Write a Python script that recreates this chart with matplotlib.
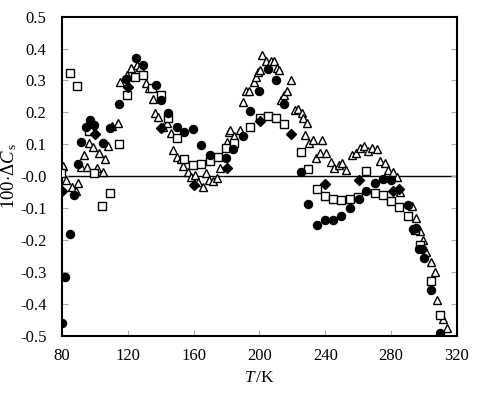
import numpy as np
import matplotlib
matplotlib.use("Agg")
import matplotlib.pyplot as plt

plt.rcParams['font.family'] = 'Liberation Serif'
plt.rcParams['mathtext.fontset'] = 'custom'
plt.rcParams['mathtext.rm'] = 'Liberation Serif'
plt.rcParams['mathtext.it'] = 'Liberation Serif:italic'

# filled circles
circ_T = [80, 82.2, 84.9, 87.3, 89.9, 91.6, 94.8, 97.0, 99.6, 104.9, 109.3, 114.7,
          118.9, 125.0, 129.2, 137.0, 140.2, 144.6, 150.1, 154.5, 159.8, 164.5,
          169.9, 179.6, 184.0, 189.8, 194.1, 199.8, 205.2, 209.8, 215.0, 225.0,
          229.6, 234.8, 239.6, 244.8, 249.3, 255.0, 260.3, 264.8, 270.2, 274.8,
          279.9, 290.0, 293.5, 294.9, 297.1, 298.5, 299.7, 304.2, 309.6]
circ_v = [-0.460, -0.317, -0.180, -0.060, 0.038, 0.108, 0.155, 0.177, 0.162, 0.103,
          0.152, 0.227, 0.304, 0.369, 0.348, 0.285, 0.240, 0.197, 0.155, 0.137,
          0.147, 0.097, 0.067, 0.056, 0.086, 0.126, 0.204, 0.266, 0.337, 0.301,
          0.226, 0.012, -0.088, -0.152, -0.136, -0.137, -0.124, -0.101, -0.072,
          -0.046, -0.022, -0.010, -0.012, -0.090, -0.166, -0.163, -0.228, -0.229,
          -0.256, -0.356, -0.490]

# filled diamonds
dia_T = [80, 100.3, 120, 140, 160, 180.4, 200.3, 219.5, 239.8, 260.5, 281, 284.8]
dia_v = [-0.045, 0.133, 0.278, 0.150, -0.027, 0.027, 0.173, 0.133, -0.025, -0.013,
         -0.046, -0.041]

# open squares
sq_T = [79.6, 84.9, 89.5, 96.6, 99.3, 104.7, 109.2, 114.6, 119.3, 124.3, 129.4,
        134.5, 140.0, 144.4, 150.0, 154.5, 159.8, 164.5, 169.9, 174.8, 179.8,
        184.7, 194.2, 200.1, 205.0, 209.8, 215.0, 225.0, 229.6, 234.9, 239.6,
        244.8, 249.5, 255.0, 260.1, 264.8, 270.2, 274.8, 280.1, 284.9, 290.0,
        294.7, 297.8, 304.2, 309.6]
sq_v = [0.010, 0.324, 0.283, 0.143, 0.010, -0.093, -0.053, 0.101, 0.254, 0.312,
        0.317, 0.277, 0.254, 0.182, 0.120, 0.053, 0.035, 0.038, 0.048, 0.061,
        0.087, 0.103, 0.155, 0.183, 0.188, 0.183, 0.163, 0.077, 0.023, -0.041,
        -0.062, -0.070, -0.074, -0.070, -0.064, 0.017, -0.052, -0.058, -0.077,
        -0.095, -0.124, -0.170, -0.214, -0.327, -0.434]

# open triangles
tri_T = [80.8, 82.4, 85.9, 88.5, 89.9, 91.5, 93.5, 95.4, 96.6, 98.8, 101.1, 102.9,
         105.1, 106.4, 108.1, 110.6, 114.4, 115.6, 119.6, 121.8, 125.8, 127.4,
         131.0, 132.9, 135.1, 136.7, 138.7, 141.5, 144.0, 146.1, 147.6, 150.1,
         152.5, 153.7, 156.5, 158.2, 160.8, 162.8, 165.5, 167.5, 169.5, 171.9,
         174.0, 176.0, 180.4, 181.4, 182.3, 184.3, 188.4, 190.2, 191.6, 193.8,
         196.6, 197.7, 198.9, 200.3, 201.6, 203.9, 206.8, 208.8, 210.4, 212.0,
         213.0, 215.0, 216.8, 219.1, 221.6, 223.6, 225.6, 226.7, 227.6, 229.1,
         229.9, 232.8, 234.6, 236.8, 238.1, 240.6, 243.8, 245.4, 248.2, 250.3,
         252.9, 256.0, 258.6, 261.1, 263.7, 266.2, 268.2, 271.2, 273.2, 276.2,
         278.3, 281.3, 283.3, 285.4, 292.6, 295.3, 297.5, 299.1, 300.9, 304.2,
         306.6, 308.0, 311.3, 314.1]
tri_v = [0.032, -0.012, -0.033, -0.045, -0.020, 0.030, 0.067, 0.030, 0.103, 0.091,
         0.025, 0.072, 0.014, 0.054, 0.096, 0.156, 0.168, 0.295, 0.318, 0.338,
         0.348, 0.343, 0.293, 0.277, 0.242, 0.197, 0.187, 0.153, 0.166, 0.134,
         0.082, 0.061, 0.053, 0.033, 0.014, -0.003, 0.004, -0.017, -0.033, 0.011,
         -0.012, -0.014, -0.005, 0.027, 0.108, 0.140, 0.145, 0.125, 0.145, 0.234,
         0.267, 0.266, 0.296, 0.310, 0.327, 0.334, 0.380, 0.360, 0.362, 0.360,
         0.338, 0.333, 0.239, 0.254, 0.266, 0.301, 0.208, 0.210, 0.198, 0.181,
         0.129, 0.168, 0.105, 0.115, 0.056, 0.072, 0.115, 0.072, 0.046, 0.025,
         0.035, 0.041, 0.020, 0.067, 0.074, 0.088, 0.095, 0.080, 0.088, 0.085,
         0.049, 0.041, 0.020, 0.014, -0.003, -0.048, -0.093, -0.131, -0.173,
         -0.201, -0.236, -0.270, -0.299, -0.389, -0.448, -0.476]

fig = plt.figure(figsize=(4.79, 3.96), dpi=100)
ax = fig.add_axes([0.129, 0.152, 0.825, 0.806])

ax.axhline(0, color='black', lw=1.0, zorder=1)
ax.plot(tri_T, tri_v, '^', ms=6, mfc='white', mec='black', mew=1.0, ls='none', zorder=2)
ax.plot(sq_T, sq_v, 's', ms=5.2, mfc='white', mec='black', mew=1.0, ls='none', zorder=3)
ax.plot(circ_T, circ_v, 'o', ms=5.8, color='black', ls='none', zorder=4)
ax.plot(dia_T, dia_v, 'D', ms=5.5, color='black', ls='none', zorder=5)

ax.set_xlim(80, 320)
ax.set_ylim(-0.5, 0.5)
ax.set_xticks(np.arange(80, 321, 40))
ax.set_yticks(np.arange(-0.5, 0.51, 0.1))
ax.set_yticklabels(['%.1f' % v for v in np.arange(-0.5, 0.51, 0.1)])
ax.tick_params(direction='in', length=4, color='#aaaaaa', labelsize=12, right=True)
ax.tick_params(axis='y', pad=11)
ax.tick_params(axis='x', pad=9)
for s in ax.spines.values():
    s.set_linewidth(1.5)

ax.set_xlabel('$T\\,/\\mathrm{K}$', fontsize=12.5, labelpad=4)
ax.set_ylabel('$100{\\cdot}\\Delta C_{\\,\\mathrm{s}}$', fontsize=13.5, labelpad=1)

fig.savefig('out.png', dpi=100)
